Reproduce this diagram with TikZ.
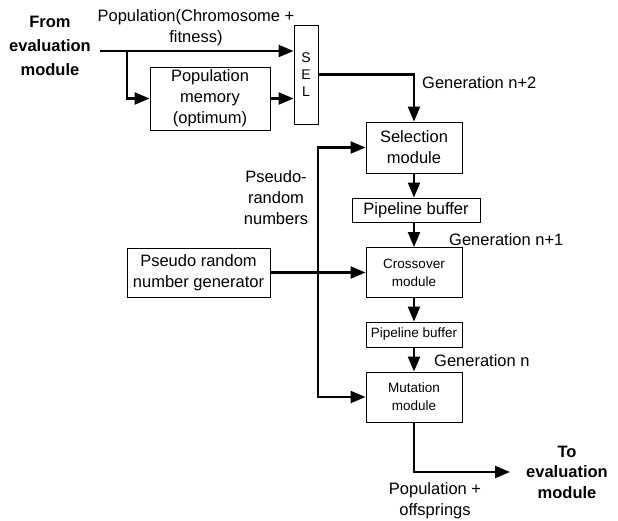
\documentclass[tikz,border=0pt]{standalone}
\usepackage{fontspec}
\setmainfont{Liberation Sans}
\usetikzlibrary{arrows.meta}
\begin{document}
\begin{tikzpicture}[x=1pt,y=-1pt,
  box/.style={draw,line width=0.9pt,inner sep=0pt,align=center,font=\fontsize{16.5}{21}\selectfont},
  sbox/.style={box,font=\fontsize{13.5}{18}\selectfont},
  conn/.style={line width=2.2pt,-{Triangle[length=15pt,width=12pt]}},
  lbl/.style={inner sep=0pt,align=center,font=\fontsize{16.5}{21}\selectfont},
  blbl/.style={inner sep=0pt,align=center,font=\fontsize{16.5}{24}\bfseries\selectfont}]
\useasboundingbox (0,0) rectangle (618,520);
% boxes
\node[box,minimum width=120pt,minimum height=63pt] (mem) at (210,98.5) {Population\\memory\\(optimum)};
\node[box,minimum width=24pt,minimum height=99pt,font=\fontsize{14}{17}\selectfont] (sel) at (306,74.5) {S\\E\\L};
\node[box,minimum width=96pt,minimum height=51pt] (selm) at (414,147.5) {Selection\\module};
\node[box,minimum width=128pt,minimum height=24pt] (pb1) at (416,210) {Pipeline buffer};
\node[sbox,minimum width=96pt,minimum height=50pt] (cross) at (414,272.5) {Crossover\\module};
\node[box,minimum width=143pt,minimum height=49pt] (prng) at (198.5,272.5) {Pseudo random\\number generator};
\node[sbox,minimum width=96pt,minimum height=25pt] (pb2) at (414,334.5) {Pipeline buffer};
\node[sbox,minimum width=96pt,minimum height=50pt] (mut) at (414,397) {Mutation\\module};
% labels
\node[blbl] (from) at (50,46) {From\\evaluation\\module};
\node[lbl] (popc) at (196,27.5) {Population(Chromosome +\\fitness)};
\node[lbl,anchor=west] (g2) at (422,83) {Generation n+2};
\node[lbl] (prn) at (276,198) {Pseudo-\\random\\numbers};
\node[lbl,anchor=west] (g1) at (449,240) {Generation n+1};
\node[lbl,anchor=west] (g0) at (434,361) {Generation n};
\node[blbl,font=\fontsize{16.5}{20.5}\bfseries\selectfont] (to) at (567,472) {To\\evaluation\\module};
\node[lbl] (popo) at (435,500.5) {Population +\\offsprings};
% coordinates
\coordinate (src) at (100,51);
\coordinate (br) at (127,51);
\coordinate (vx) at (318,272.5);
\coordinate (out) at (510,472);
% connectors
\draw[conn] (src) -- (sel.west |- src);
\draw[conn] (br) |- (mem.west);
\draw[conn] (mem.east) -- (sel.west |- mem.east);
\draw[conn] (sel.east) -| (selm.north);
\draw[conn] (selm.south) -- (selm.south |- pb1.north);
\draw[conn] (selm.south |- pb1.south) -- (cross.north);
\draw[conn] (cross.south) -- (pb2.north);
\draw[conn] (pb2.south) -- (mut.north);
\draw[conn] (prng.east) -- (cross.west);
\draw[conn] (vx) |- (selm.west);
\draw[conn] (vx) |- (mut.west);
\draw[conn] (mut.south) |- (out);
\end{tikzpicture}
\end{document}
